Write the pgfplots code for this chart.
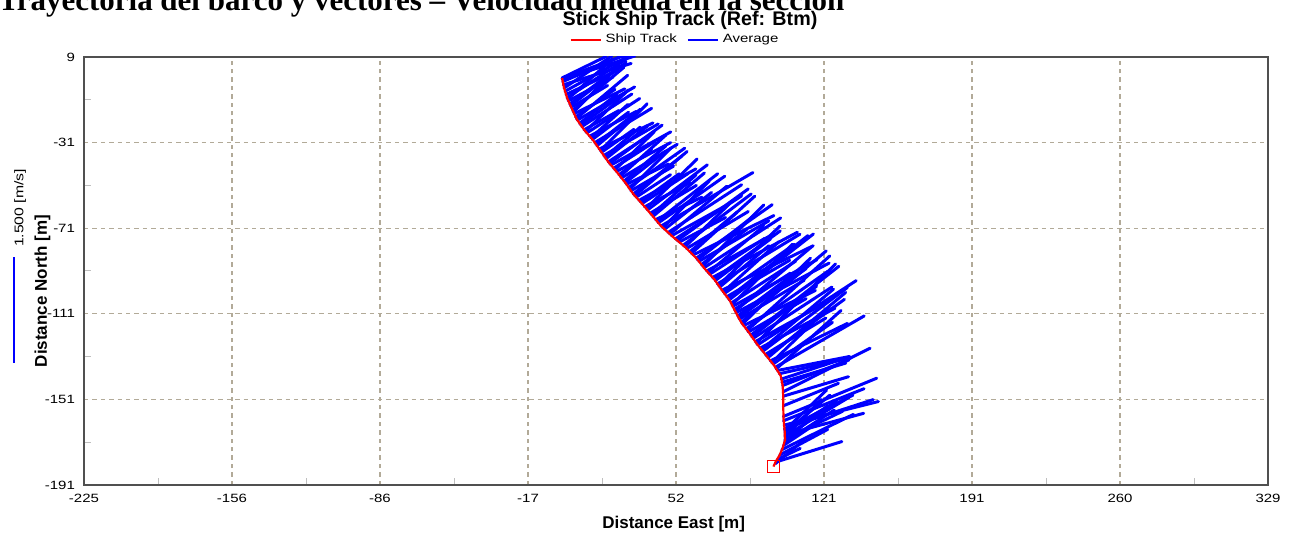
\documentclass[border=0pt]{standalone}
\usepackage{pgfplots}
\pgfplotsset{compat=1.18}
\usepackage{pgfplotstable}
\usepackage{fontspec}
\setmainfont{Liberation Sans}
\newfontfamily\widesans[FakeStretch=1.25]{Liberation Sans}
\newfontfamily\headserif{Liberation Serif}

\definecolor{gridtan}{RGB}{178,170,152}
\definecolor{framegray}{RGB}{80,80,80}

% ship track (east, north) in metres
\pgfplotstableread{
x y
-1.3 -0.8
-0.5 -5
1.0 -10
3.2 -15
5.5 -20
9.0 -25
13.3 -30
16.8 -35
20.3 -40
24.5 -45
28.5 -50
32.0 -55
36.5 -60
40.8 -65
43.75 -68.5
45.0 -70
46.65 -71.5
50.5 -75
56.5 -80
61.5 -85
65.5 -90
70.0 -95
73.5 -100
77.3 -105
79.8 -110
82.5 -115
86.3 -120
89.8 -125
93.8 -130
97.8 -135
101.0 -140
101.9 -144.5
102.2 -150
102.2 -155
102.3 -160
102.8 -165
103.0 -170
101.8 -174
100.5 -177
98.7 -180
97.6 -182.4
}\track

% depth-averaged velocity sticks: origin on the track, (u,v) in plot metres
\pgfplotstableread{
x y u v
-1.30 -0.8 20.5 10.0
-1.20 -1.5 34.0 11.0
-1.30 -1.0 35.3 13.0
-1.00 -2.5 29.0 12.5
-0.70 -4.0 31.7 10.0
-0.35 -5.5 22.4 15.0
0.10 -7.0 29.9 16.5
0.55 -8.5 24.5 11.5
1.00 -10.0 27.7 18.0
1.33 -10.75 20.9 18.8
1.65 -11.5 21.0 11.2
2.30 -13.0 23.7 17.9
2.65 -13.75 26.0 20.3
3.00 -14.5 17.0 10.2
3.65 -16.0 24.0 20.2
4.00 -16.75 16.3 16.3
4.35 -17.5 23.7 11.6
5.05 -19.0 18.4 12.9
5.39 -19.75 24.0 20.2
5.85 -20.5 26.8 15.5
6.90 -22.0 17.6 13.7
7.43 -22.75 20.1 14.6
7.95 -23.5 23.4 15.2
9.00 -25.0 16.3 9.0
9.65 -25.75 20.1 19.4
10.30 -26.5 24.7 16.1
11.60 -28.0 21.9 11.6
12.20 -28.75 17.3 15.6
12.90 -29.5 16.9 12.7
14.00 -31.0 26.6 16.0
14.50 -31.75 20.8 16.3
15.05 -32.5 17.1 14.3
16.10 -34.0 25.1 12.2
16.60 -34.75 21.9 21.9
17.15 -35.5 15.2 10.7
18.20 -37.0 25.5 14.7
18.70 -37.75 16.6 14.0
19.25 -38.5 19.5 15.3
20.30 -40.0 17.7 11.5
20.90 -40.75 24.6 17.9
21.55 -41.5 28.0 15.5
22.80 -43.0 19.3 12.5
23.45 -43.75 18.4 17.8
24.10 -44.5 25.4 13.5
25.30 -46.0 15.3 11.6
25.90 -46.75 21.4 19.3
26.50 -47.5 26.1 15.7
27.70 -49.0 19.6 16.5
28.30 -49.75 18.9 14.8
28.85 -50.5 19.6 9.5
29.90 -52.0 26.2 18.4
30.40 -52.75 19.2 19.2
30.95 -53.5 19.9 11.5
32.00 -55.0 22.7 17.7
32.70 -55.75 24.5 20.6
33.35 -56.5 16.1 10.5
34.70 -58.0 26.6 14.7
35.40 -58.75 18.1 13.2
36.05 -59.5 21.5 14.0
37.35 -61.0 21.0 11.2
38.00 -61.75 23.9 23.1
38.65 -62.5 28.0 21.1
39.95 -64.0 21.6 13.0
40.60 -64.75 20.8 18.7
41.20 -65.5 24.1 20.3
42.50 -67.0 21.6 10.5
43.10 -67.75 28.4 22.2
43.75 -68.5 31.1 21.8
45.00 -70.0 43.0 25.0
45.80 -70.75 21.8 21.8
46.65 -71.5 22.0 17.2
48.30 -73.0 34.4 22.3
49.10 -73.75 26.7 22.4
49.95 -74.5 25.8 14.3
51.70 -76.0 31.0 20.1
52.60 -76.75 33.2 24.1
53.50 -77.5 21.7 11.5
55.30 -79.0 31.9 24.0
56.20 -79.75 21.1 20.4
57.00 -80.5 28.8 17.3
58.50 -82.0 21.9 18.4
59.25 -82.75 29.6 26.7
60.00 -83.5 37.8 18.4
61.50 -85.0 35.5 25.0
62.10 -85.75 26.5 20.7
62.70 -86.5 32.7 18.9
63.90 -88.0 21.3 16.6
64.50 -88.75 28.6 28.6
65.10 -89.5 35.9 23.3
66.40 -91.0 31.5 17.5
67.10 -91.75 25.9 21.7
67.75 -92.5 25.7 16.7
69.10 -94.0 39.7 21.1
69.80 -94.75 31.0 22.5
70.35 -95.5 25.9 19.5
71.40 -97.0 38.6 23.2
71.90 -97.75 28.8 27.8
72.45 -98.5 23.0 19.3
73.50 -100.0 42.7 20.8
74.10 -100.75 26.0 23.4
74.65 -101.5 32.8 23.0
75.80 -103.0 29.4 17.0
76.35 -103.75 37.4 29.3
76.90 -104.5 39.4 30.8
77.80 -106.0 30.2 19.6
78.20 -106.75 28.3 28.3
78.55 -107.5 39.4 21.8
79.30 -109.0 26.2 17.0
79.70 -109.75 35.8 30.1
80.05 -110.5 43.6 23.2
80.90 -112.0 33.2 25.0
81.30 -112.75 31.6 22.9
81.70 -113.5 30.3 18.2
82.50 -115.0 39.8 33.4
83.10 -115.75 31.8 30.7
83.65 -116.5 33.6 16.4
84.80 -118.0 38.3 26.9
85.35 -118.75 38.6 34.8
85.90 -119.5 27.0 15.6
87.00 -121.0 41.2 32.2
87.50 -121.75 30.3 23.7
88.05 -122.5 36.9 24.0
89.10 -124.0 32.7 18.1
89.60 -124.75 37.0 37.0
90.20 -125.5 46.1 30.0
91.40 -127.0 35.0 18.6
92.00 -127.75 33.7 28.3
92.60 -128.5 39.6 29.8
93.80 -130.0 28.3 17.0
94.40 -130.75 36.4 26.5
95.00 -131.5 36.4 30.5
96.20 -133.0 36.0 17.5
96.80 -133.75 27.0 26.1
97.40 -134.5 27.8 19.5
98.45 -136.0 41.6 24.0
98.90 -136.75 30.3 27.3
99.40 -137.5 33.6 6.5
100.35 -139.0 33.65 7.5
101.30 -141.5 32.1 10.5
101.60 -143.0 29.9 9.0
101.90 -144.5 31.1 12.0
102.20 -147.4 40.6 20.3
102.20 -149.5 30.5 9.1
102.20 -154.0 25.8 10.5
102.20 -159.0 43.7 17.9
102.30 -161.0 37.7 15.0
102.60 -163.0 44.1 11.0
102.80 -164.5 41.5 13.4
102.80 -165.0 32.0 16.0
102.90 -165.5 19.6 18.9
103.00 -166.0 24.0 14.0
103.00 -166.5 21.0 17.5
103.00 -167.5 36.8 10.0
103.00 -168.0 30.0 18.0
103.00 -168.5 17.0 17.5
103.00 -169.5 27.0 13.0
102.90 -170.0 20.0 16.0
102.80 -171.0 23.2 15.0
102.30 -172.5 15.7 10.5
101.50 -174.5 33.5 16.5
100.50 -177.0 22.5 12.0
99.50 -179.0 10.6 5.1
99.20 -180.1 30.4 9.4
98.50 -181.0 13.5 11.0
}\sticks

\begin{document}
\begin{tikzpicture}
\useasboundingbox (-42pt,-27pt) rectangle (605pt,242.5pt);
\begin{axis}[
  at={(0,0)}, anchor=south west,
  scale only axis, width=592pt, height=214pt,
  xmin=-225, xmax=329, ymin=-191, ymax=9,
  xtick={-225,-155.75,-86.5,-17.25,52,121.25,190.5,259.75,329},
  xticklabels={-225,-156,-86,-17,52,121,191,260,329},
  ytick={-191,-151,-111,-71,-31,9},
  yticklabels={-191,-151,-111,-71,-31,9},
  minor x tick num=1, minor y tick num=1,
  grid=major,
  major grid style={gridtan, dash pattern=on 2.2pt off 2pt, line width=0.6pt},
  axis line style={framegray, line width=1pt},
  tick pos=left, tick align=inside,
  major tick length=0pt, minor tick length=3.5pt,
  minor tick style={black!25, line width=0.5pt},
  tick label style={font=\widesans\fontsize{6}{7}\selectfont},
  xticklabel style={yshift=-1pt},
  yticklabel style={xshift=-1pt},
  xlabel={Distance East [m]},
  ylabel={Distance North [m]},
  xlabel style={font=\bfseries\fontsize{8.5}{10}\selectfont, at={(axis description cs:0.498,0)}, anchor=center, yshift=-19.5pt},
  ylabel style={font=\bfseries\fontsize{8.5}{10}\selectfont, at={(axis description cs:-0.035,0.453)}, anchor=center},
  legend style={at={(axis description cs:0.5,1)}, anchor=center, yshift=8.5pt, draw=none, fill=none,
    inner sep=0pt, legend columns=2, font=\widesans\fontsize{6}{7}\selectfont,
    /tikz/column 2/.style={column sep=3pt}},
  legend image code/.code={\draw[#1] (0pt,0pt) -- (15pt,0pt);},
]
\addlegendimage{red, line width=1pt}
\addlegendentry{Ship Track}
\addlegendimage{blue, line width=1pt}
\addlegendentry{Average}

\addplot[blue, line width=1.5pt, line cap=round, forget plot,
  quiver={u=\thisrow{u}, v=\thisrow{v}}] table[x=x, y=y] {\sticks};
\addplot[red, line width=1.1pt, forget plot] table[x=x, y=y] {\track};
\addplot[red, line width=0.9pt, only marks, mark=square, mark size=3pt, forget plot]
  coordinates {(97.6,-182.4)};
\end{axis}

% chart heading
\node[anchor=base, font=\bfseries\fontsize{9.85}{11}\selectfont, inner sep=0pt] at (303pt,229.5pt) {Stick Ship Track (Ref: Btm)};
% report heading above the chart
\node[anchor=base west, font=\headserif\bfseries\fontsize{15.5}{18}\selectfont, inner sep=0pt] at (-43pt,237.3pt) {Trayectoria del barco y vectores – Velocidad media en la sección};
% stick length key
\draw[blue, line width=1.2pt] (-35pt,61pt) -- (-35pt,114pt);
\node[rotate=90, font=\widesans\fontsize{6.3}{7}\selectfont, inner sep=0pt] at (-32pt,138.5pt) {1.500 [m/s]};
\end{tikzpicture}
\end{document}
